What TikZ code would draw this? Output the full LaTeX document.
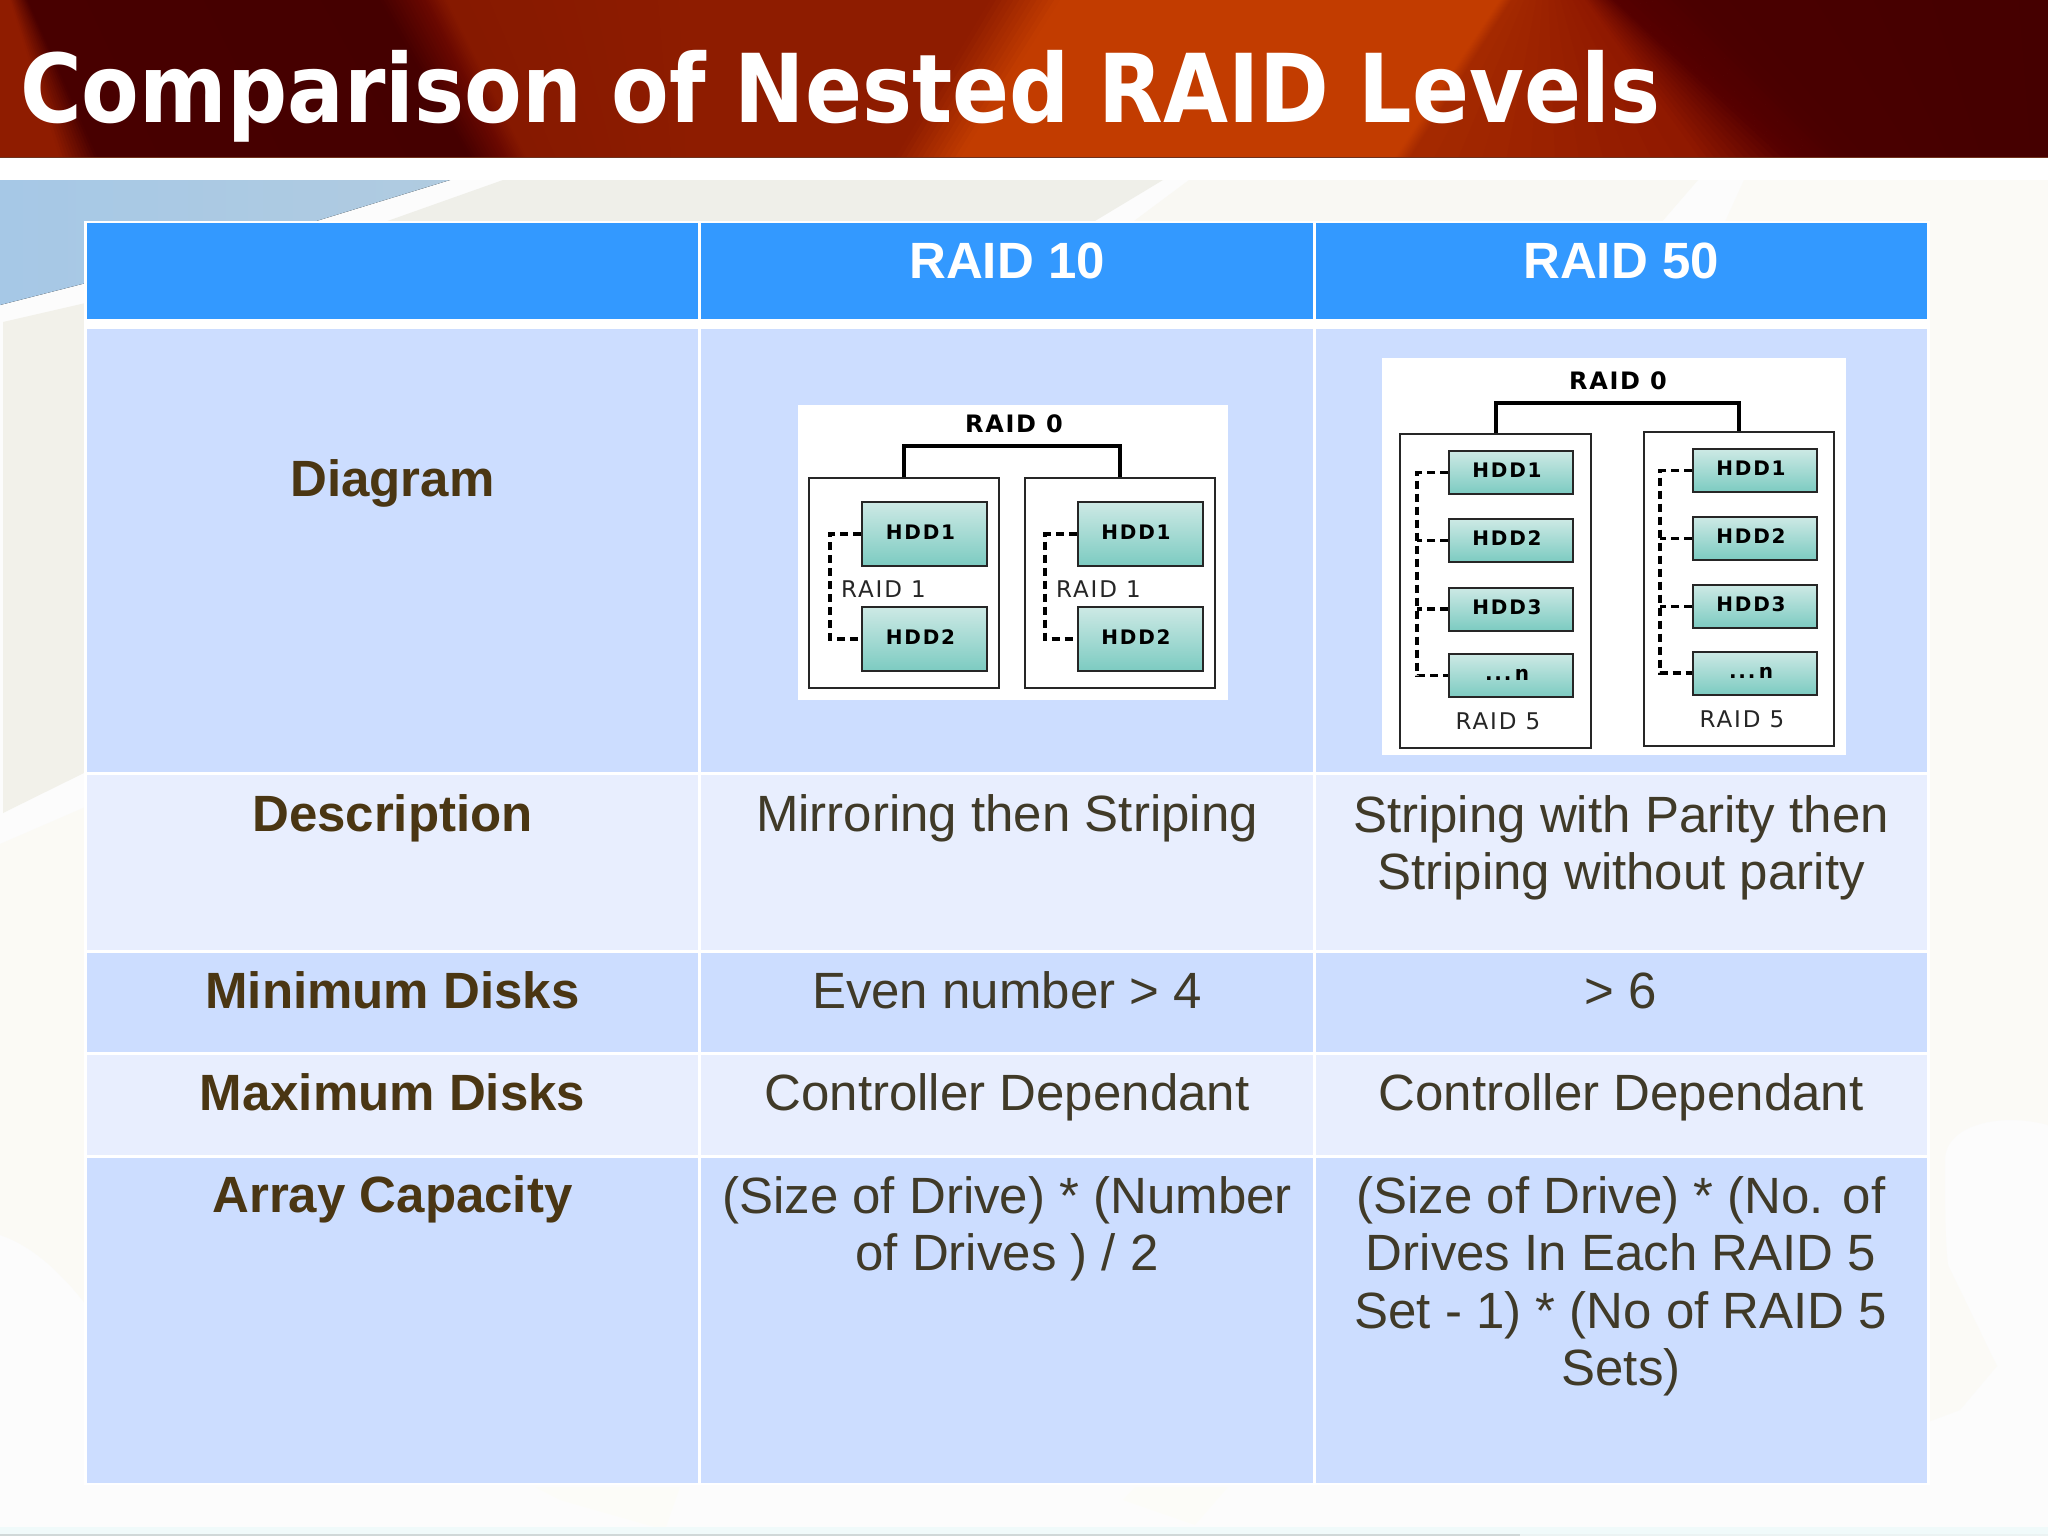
\documentclass[tikz,border=0pt]{standalone}
\usepackage{fontspec}
\usepackage{graphicx}
\setmainfont{Liberation Sans}
\newfontfamily\titlefont{DejaVu Sans}
\newfontfamily\pixbold[LetterSpace=9]{DejaVu Sans}
\newfontfamily\pixboldtag[LetterSpace=7]{DejaVu Sans}
\newfontfamily\pixlight[LetterSpace=8]{DejaVu Sans}
\newcommand{\lastdrivetag}{...\,n}
\definecolor{sA}{HTML}{8F1C00}
\definecolor{sB}{HTML}{480000}
\definecolor{sC}{HTML}{450000}
\definecolor{sD}{HTML}{6A0800}
\definecolor{sE}{HTML}{861900}
\definecolor{sF}{HTML}{8E1C00}
\definecolor{sG}{HTML}{C23C00}
\definecolor{sH}{HTML}{A52A00}
\definecolor{sI}{HTML}{8F1800}
\definecolor{sJ}{HTML}{560000}
\definecolor{sK}{HTML}{4A0000}
\definecolor{hdrblue}{HTML}{3399FF}
\definecolor{rowdark}{HTML}{CCDDFF}
\definecolor{rowlight}{HTML}{E8EEFE}
\definecolor{labelbrown}{HTML}{4A3613}
\definecolor{bodytext}{HTML}{403A28}
\definecolor{hddtop}{HTML}{CDE9E5}
\definecolor{hddbot}{HTML}{7CCBC1}
\definecolor{bgblueA}{RGB}{166,200,230}
\definecolor{bgblueB}{RGB}{176,203,224}
\definecolor{bgA}{RGB}{239,239,233}
\definecolor{bgB}{RGB}{249,248,243}
\definecolor{bgC}{RGB}{242,241,234}
\definecolor{bgD}{RGB}{251,250,245}
\definecolor{bgE}{RGB}{251,250,246}
\definecolor{bgF}{RGB}{252,252,248}
\definecolor{stripA}{RGB}{240,250,250}
\definecolor{stripB}{RGB}{208,216,216}
\definecolor{stripC}{RGB}{235,243,243}
\definecolor{bandedge}{RGB}{110,50,30}
\tikzset{
  x=1pt,y=-1pt,
  bodycell/.style={anchor=base,inner sep=0pt,align=center,text=bodytext,font=\fontsize{51}{57.5}\selectfont},
  labelcell/.style={bodycell,text=labelbrown,font=\fontsize{51}{57.5}\selectfont\bfseries},
  headcell/.style={bodycell,text=white,font=\fontsize{51}{57.5}\selectfont\bfseries},
  raidbox/.style={draw=black!85,line width=2pt,fill=white,rectangle,inner sep=0pt},
  hdd/.style={draw=black!85,line width=2pt,rectangle,inner sep=0pt,top color=hddtop,bottom color=hddbot,
     text=black,font=\pixbold\bfseries\fontsize{20}{20}\selectfont,text height=14pt,text depth=4pt,execute at end node={\kern8pt}},
  bigtag/.style={anchor=base,inner sep=0pt,text=black,font=\pixboldtag\bfseries\fontsize{24}{24}\selectfont},
  smalltag/.style={anchor=base,inner sep=0pt,text=black!85,font=\pixlight\fontsize{23}{23}\selectfont},
  busline/.style={draw=black,line width=4pt},
  dashline/.style={draw=black,line width=3.6pt,dash pattern=on 8pt off 5pt},
}
\begin{document}
\begin{tikzpicture}
\useasboundingbox (0,0) rectangle (2048,1536);
% page
\fill[white!99!black] (0,0) rectangle (2048,1536);
% background shapes
\fill[white] (0,158) rectangle (2048,180);
\fill[left color=bgblueA, right color=bgblueB]
  (0,180) -- (450,180) -- (313,222) -- (86,283) -- (0,305) -- cycle;
\fill[bgA] (503,180) -- (1163,180) -- (1090,224) -- (379,224) -- cycle;
\fill[bgB] (1189,180) -- (1698,180) -- (1660,224) -- (1130,224) -- cycle;
\fill[bgC] (3,322) -- (90,302) -- (90,770) -- (3,813) -- cycle;
\fill[bgD] (0,844) -- (90,805) -- (90,1310) .. controls (60,1270) and (30,1245) .. (0,1235) -- cycle;
\fill[bgE] (1744,180) -- (2048,180) -- (2048,1125)
  .. controls (2000,1112) and (1945,1125) .. (1945,1160)
  .. controls (1945,1200) and (1945,1240) .. (1948,1265)
  -- (1997,1366) -- (1960,1410) -- (1920,1425) -- (1920,224) -- (1724,224) -- cycle;
\fill[bgF] (535,1487) -- (680,1487) -- (665,1530) -- (560,1500) -- cycle;
\fill[bgF] (1135,1487) -- (1228,1487) -- (1195,1525) -- (1123,1500) -- cycle;
\fill[stripA] (0,1527) rectangle (2048,1534);
\fill[stripB] (0,1534) rectangle (1520,1536);
\fill[stripC] (1520,1534) rectangle (2048,1536);
% title band
\foreach \tA/\bA/\cA/\tB/\bB/\cB in {
   0/0/sA/10/60/sA, 10/60/sA/28/98/sB, 28/98/sB/380/470/sC, 380/470/sC/425/505/sD, 425/505/sD/447/527/sE,
   447/527/sE/700/700/sF, 700/700/sF/990/895/sF, 990/895/sF/1060/960/sG, 1060/960/sG/1500/1395/sG,
   1500/1395/sG/1512/1410/sH, 1512/1410/sH/1585/1700/sI, 1585/1700/sI/1615/1790/sJ, 1615/1790/sJ/1700/1850/sK,
   1700/1850/sK/2048/2048/sC}{
  \foreach \k in {0,1,2,3,4,5,6,7,8,9,10,11}{
    \pgfmathsetmacro\xtl{\tA+(\tB-\tA)*\k/12}
    \pgfmathsetmacro\xbl{\bA+(\bB-\bA)*\k/12}
    \pgfmathsetmacro\xtr{\tA+(\tB-\tA)*(\k+1)/12+1}
    \pgfmathsetmacro\xbr{\bA+(\bB-\bA)*(\k+1)/12+1}
    \pgfmathsetmacro\pct{(\k+0.5)/12*100}
    \fill[color=\cB!\pct!\cA] (\xtl,0) -- (\xtr,0) -- (\xbr,158) -- (\xbl,158) -- cycle;
  }
}
\fill[bandedge] (0,157) rectangle (2048,158.5);
\node[anchor=base west,inner sep=0pt,text=white] (title) at (20,122.7)
  {\resizebox{1640pt}{\height}{\titlefont\bfseries\fontsize{95}{95}\selectfont Comparison of Nested RAID Levels}};
% table
\fill[white] (84,221) rectangle (1930,1485);
\fill[hdrblue] (87,223) rectangle (698,319);
\fill[hdrblue] (701,223) rectangle (1313,319);
\fill[hdrblue] (1316,223) rectangle (1927,319);
\foreach \ya/\yb/\cc in {329/772/rowdark, 775/950/rowlight, 953/1052/rowdark, 1055/1155/rowlight, 1158/1483/rowdark}{
  \fill[\cc] (87,\ya) rectangle (698,\yb);
  \fill[\cc] (701,\ya) rectangle (1313,\yb);
  \fill[\cc] (1316,\ya) rectangle (1927,\yb);
}
% header
\node[headcell] (h10) at (1007,278) {RAID 10};
\node[headcell] (h50) at (1621,278) {RAID 50};
% row labels
\node[labelcell] (lDiagram) at (392.5,496) {Diagram};
\node[labelcell] (lDesc) at (392.5,831) {Description};
\node[labelcell] (lMin) at (392.5,1008) {Minimum Disks};
\node[labelcell] (lMax) at (392.5,1110) {Maximum Disks};
\node[labelcell] (lCap) at (392.5,1212) {Array Capacity};
% body (a node's base is the baseline of its last line)
\node[bodycell] (d10) at (1007,831) {Mirroring then Striping};
\node[bodycell] (d50) at (1621,889.5) {Striping with Parity then\\Striping without parity};
\node[bodycell] (min10) at (1007,1008) {Even number > 4};
\node[bodycell] (min50) at (1621,1008) {> 6};
\node[bodycell] (max10) at (1007,1110) {Controller Dependant};
\node[bodycell] (max50) at (1621,1110) {Controller Dependant};
\node[bodycell] (cap10) at (1007,1270.5) {(Size of Drive) * (Number\\of Drives ) / 2};
\node[bodycell] (cap50) at (1621,1385.5) {(Size of Drive) * (No. of\\Drives In Each RAID 5\\Set - 1) * (No of RAID 5\\Sets)};
% RAID 10 diagram
\fill[white] (798,405) rectangle (1228,700);
\node[bigtag] (r0a) at (1014,432) {RAID 0};
\node[raidbox,minimum width=190pt,minimum height=210pt] (a1) at (904,583) {};
\node[raidbox,minimum width=190pt,minimum height=210pt] (a2) at (1120,583) {};
\coordinate (abus) at (1012,446);
\draw[busline] (a1.north) |- (abus) -| (a2.north);
\node[hdd,minimum width=125pt,minimum height=64pt] (a1h1) at (924.5,534) {HDD1};
\node[hdd,minimum width=125pt,minimum height=64pt] (a1h2) at (924.5,639) {HDD2};
\node[hdd,minimum width=125pt,minimum height=64pt] (a2h1) at (1140,534) {HDD1};
\node[hdd,minimum width=125pt,minimum height=64pt] (a2h2) at (1140,639) {HDD2};
\coordinate (as1) at (830,580);
\coordinate (as2) at (1045,580);
\draw[dashline] (a1h1.west) -| (as1) |- (a1h2.west);
\draw[dashline] (a2h1.west) -| (as2) |- (a2h2.west);
\node[smalltag,anchor=base west] (r1a) at (841,597) {RAID 1};
\node[smalltag,anchor=base west] (r1b) at (1056,597) {RAID 1};
% RAID 50 diagram
\fill[white] (1382,358) rectangle (1846,755);
\node[bigtag] (r0b) at (1618,389) {RAID 0};
\node[raidbox,minimum width=191pt,minimum height=314pt] (b1) at (1495.5,591) {};
\node[raidbox,minimum width=190pt,minimum height=314pt] (b2) at (1739,589) {};
\coordinate (bbus) at (1617,403);
\draw[busline] (b1.north) |- (bbus) -| (b2.north);
\foreach \nm/\yy/\tx in {1/472.5/HDD1, 2/540.5/HDD2, 3/609/HDD3, 4/675.5/\lastdrivetag}{
  \node[hdd,minimum width=124pt,minimum height=43pt] (b1h\nm) at (1511,\yy) {\tx};
}
\foreach \nm/\yy/\tx in {1/470.5/HDD1, 2/538.5/HDD2, 3/606.5/HDD3, 4/673/\lastdrivetag}{
  \node[hdd,minimum width=124pt,minimum height=43pt] (b2h\nm) at (1755,\yy) {\tx};
}
\coordinate (bs1) at (1417,570);
\coordinate (bs2) at (1660,570);
\draw[dashline] (b1h1.west) -| (bs1) |- (b1h4.west);
\draw[dashline] (b2h1.west) -| (bs2) |- (b2h4.west);
\draw[dashline] (b1h2.west) -- (b1h2.west -| bs1);
\draw[dashline] (b1h3.west) -- (b1h3.west -| bs1);
\draw[dashline] (b2h2.west) -- (b2h2.west -| bs2);
\draw[dashline] (b2h3.west) -- (b2h3.west -| bs2);
\node[smalltag] (r5a) at (1498,729) {RAID 5};
\node[smalltag] (r5b) at (1742,727) {RAID 5};
\end{tikzpicture}
\end{document}
